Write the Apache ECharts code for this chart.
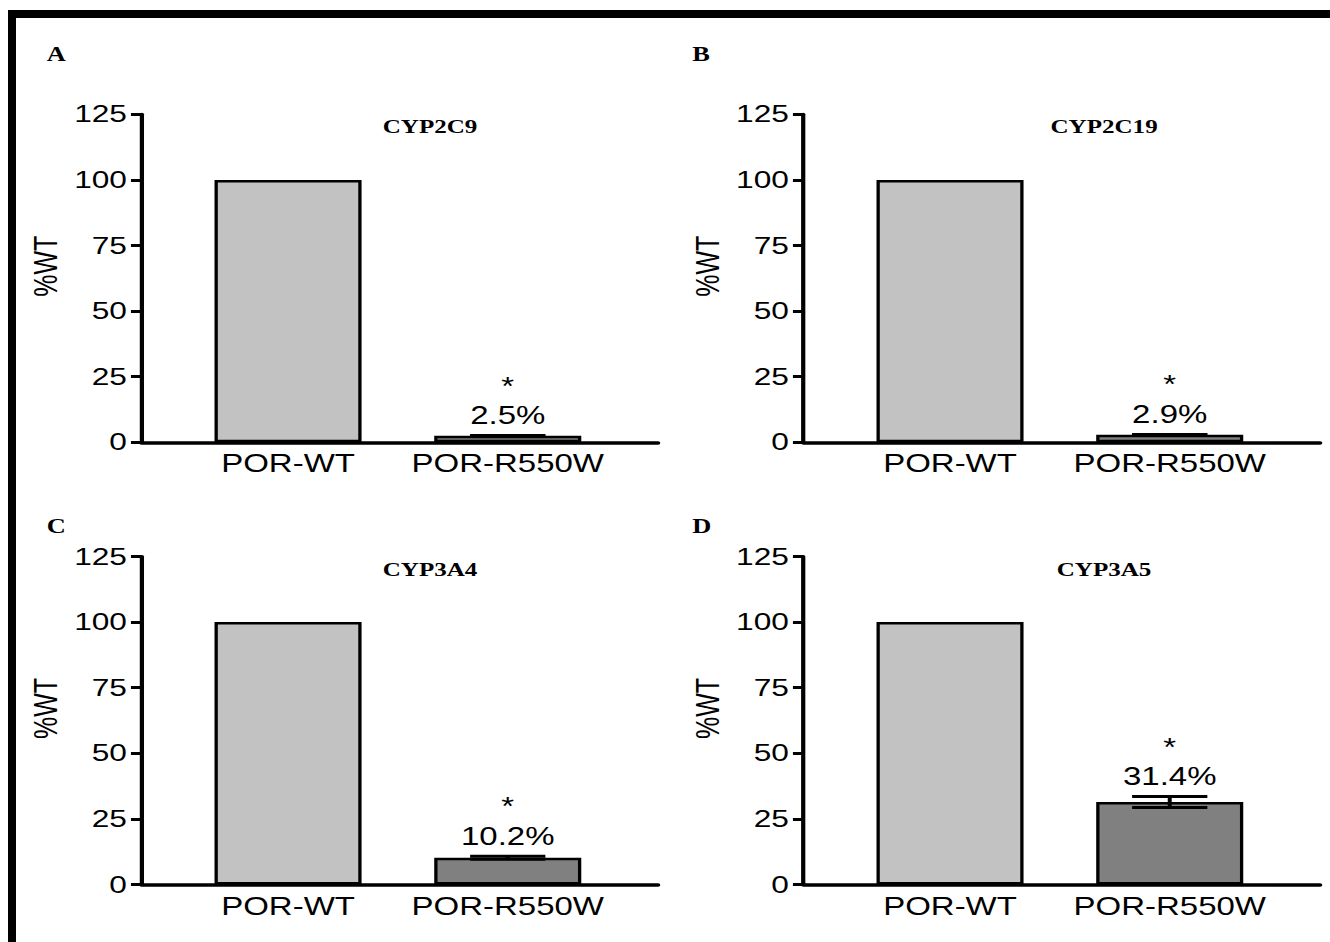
<!DOCTYPE html>
<html>
<head>
<meta charset="utf-8">
<title>POR-R550W activity</title>
<script src="https://cdn.jsdelivr.net/npm/echarts@6/dist/echarts.min.js"></script>
<style>
  html, body { margin: 0; padding: 0; background: #fff; overflow: hidden; }
  #wrap { position: relative; width: 1330px; height: 942px; overflow: hidden; }
  /* the original figure is stretched sideways, so the chart is drawn narrow and widened */
  #chart { position: absolute; left: 0; top: 0; width: 1008px; height: 942px;
           transform: scaleX(1.32); transform-origin: 0 0; }
  #frame { position: absolute; left: 8px; top: 10px; width: 1330px; height: 942px;
           border-top: 8px solid #000; border-left: 8px solid #000; pointer-events: none; }
</style>
</head>
<body>
<div id="wrap">
  <div id="chart"></div>
  <div id="frame"></div>
</div>
<script>
// 数据
var categories = ['POR-WT', 'POR-R550W'];
var panelLetters = ['A', 'B', 'C', 'D'];
var enzymes = ['CYP2C9', 'CYP2C19', 'CYP3A4', 'CYP3A5'];
var wtValues = [100, 100, 100, 100];
var mutValues = [2.5, 2.9, 10.2, 31.4];
var mutErrors = [0.1, 0.1, 0.6, 2.1];
var yMin = 0, yMax = 125, yStep = 25;

// 布局 (未拉伸坐标)
var gridLeft = [107.2, 608.7, 107.2, 608.7];
var gridTop = [114.3, 114.3, 556.5, 556.5];
var gridW = 391.3, gridH = 328;
var sans = '"Liberation Sans", Arial, sans-serif';
var serif = '"Liberation Serif", "Times New Roman", serif';

var chart = echarts.init(document.getElementById('chart'), null, { renderer: 'svg' });

// 误差线 + 百分比 + 星号
function errorBar(params, api) {
	var x = api.value(0), y = api.value(1), e = api.value(2);
	var top = api.coord([x, y + e]);
	var bot = api.coord([x, y - e]);
	var hw = 28.5;
	var ls = { stroke: '#000', lineWidth: 3 };
	return {
		type: 'group',
		children: [
			{ type: 'line', shape: { x1: top[0], y1: top[1], x2: bot[0], y2: bot[1] }, style: ls },
			{ type: 'line', shape: { x1: top[0] - hw, y1: top[1], x2: top[0] + hw, y2: top[1] }, style: ls },
			{ type: 'line', shape: { x1: bot[0] - hw, y1: bot[1], x2: bot[0] + hw, y2: bot[1] }, style: ls },
			{ type: 'text', style: { text: y.toFixed(1) + '%', x: top[0], y: top[1] - 20, align: 'center',
				verticalAlign: 'middle', fontSize: 25, fontFamily: sans, fill: '#000' } },
			{ type: 'text', style: { text: '*', x: top[0], y: top[1] - 49.5, align: 'center',
				verticalAlign: 'middle', fontSize: 25, fontFamily: sans, fill: '#000' } }
		]
	};
}

var grids = [], xAxes = [], yAxes = [], series = [], graphics = [];
for (var i = 0; i < 4; i++) {
	grids.push({ left: gridLeft[i], top: gridTop[i], width: gridW, height: gridH });
	xAxes.push({
		gridIndex: i,
		type: 'value',
		min: 0.333,
		max: 2.684,
		splitLine: { show: false },
		axisTick: { show: false },
		axisLine: { onZero: false, lineStyle: { color: '#000', width: 3.5 } },
		axisLabel: {
			customValues: [1, 2],
			formatter: function (v) { return categories[Math.round(v) - 1]; },
			fontSize: 25, color: '#000', fontFamily: sans, margin: 9
		}
	});
	yAxes.push({
		gridIndex: i,
		type: 'value',
		min: yMin,
		max: yMax,
		interval: yStep,
		name: '%WT',
		nameLocation: 'middle',
		nameGap: 60,
		nameTextStyle: { fontSize: 25, color: '#000', fontFamily: sans, padding: [0, 0, 0, 24] },
		splitLine: { show: false },
		axisLine: { show: true, onZero: false, lineStyle: { color: '#000', width: 3.2 } },
		axisTick: { show: true, length: 8, lineStyle: { color: '#000', width: 3 } },
		axisLabel: { fontSize: 24, color: '#000', fontFamily: sans, margin: 11 }
	});
	series.push({
		type: 'bar',
		xAxisIndex: i,
		yAxisIndex: i,
		barWidth: 111.4,
		itemStyle: { borderColor: '#000', borderWidth: 2.5 },
		data: [
			{ value: [1, wtValues[i]], itemStyle: { color: '#c2c2c2' } },
			{ value: [2, mutValues[i]], itemStyle: { color: '#808080' } }
		]
	});
	series.push({
		type: 'custom',
		xAxisIndex: i,
		yAxisIndex: i,
		renderItem: errorBar,
		data: [[2, mutValues[i], mutErrors[i]]],
		z: 5
	});
	// 面板字母与标题
	graphics.push({
		type: 'text', left: i % 2 === 0 ? 35.4 : 524.5, top: i < 2 ? 44 : 516,
		style: { text: panelLetters[i], font: 'bold 20px ' + serif, fill: '#000' }
	});
	graphics.push({
		type: 'text', x: i % 2 === 0 ? 325.8 : 836.4, y: i < 2 ? 127 : 570,
		style: { text: enzymes[i], font: 'bold 19px ' + serif, fill: '#000',
			align: 'center', verticalAlign: 'middle' }
	});
}

chart.setOption({
	backgroundColor: '#fff',
	animation: false,
	grid: grids,
	xAxis: xAxes,
	yAxis: yAxes,
	series: series,
	graphic: graphics
});
</script>
</body>
</html>
